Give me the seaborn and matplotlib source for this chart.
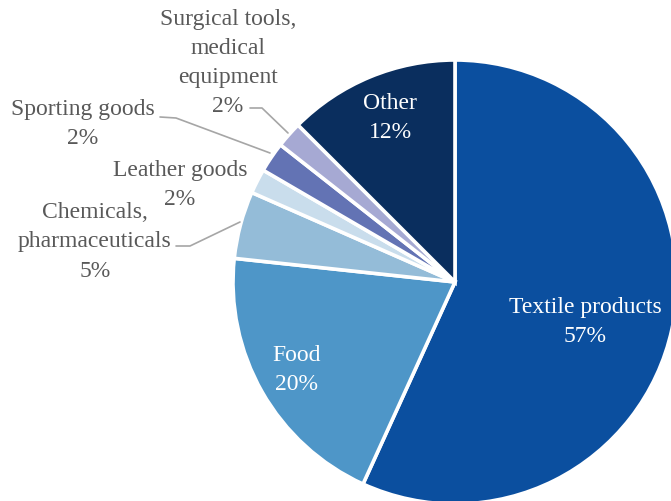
import matplotlib
matplotlib.use("Agg")
import matplotlib.pyplot as plt
import seaborn as sns

# Daten (Anteile in %)
kategorien = ["Textile products", "Food", "Chemicals,\npharmaceuticals", "Leather goods",
              "Sporting goods", "Surgical tools,\nmedical\nequipment", "Other"]
anteile = [56.8, 19.9, 4.9, 1.8, 2.2, 1.9, 12.5]
prozent_text = ["57%", "20%", "5%", "2%", "2%", "2%", "12%"]

farben = ["#0B4F9F", "#4E96C8", "#94BCD8", "#C9DDEC", "#6373B4", "#A6A9D3", "#0A2E5E"]

sns.set_theme(style="white")
plt.rcParams["font.family"] = ["Liberation Serif", "DejaVu Serif"]

W, H = 671, 501
cx, cy, r = 455, 282, 222

fig = plt.figure(figsize=(W / 100, H / 100), dpi=100)
ax = fig.add_axes([(cx - r) / W, (H - cy - r) / H, 2 * r / W, 2 * r / H])

ax.pie(anteile, colors=sns.color_palette(farben), startangle=90, counterclock=False,
       radius=1, wedgeprops=dict(edgecolor="white", linewidth=2.6, clip_on=False))
ax.set_xlim(-1, 1)
ax.set_ylim(-1, 1)
ax.axis("off")


def px(x, y):
    # Pixelposition -> Datenkoordinaten der Achse
    return (x - cx) / r, (cy - y) / r


# Beschriftungspositionen (Pixel, Textmitte)
label_pos = [(585, 322), (297, 370), (95, 242), (180, 185), (83, 124), (228, 63), (390, 118)]
innen = [True, True, False, False, False, False, True]

for kat, pct, pos, inn in zip(kategorien, prozent_text, label_pos, innen):
    ax.text(*px(*pos), kat + "\n" + pct, ha="center", va="center", fontsize=17,
            linespacing=1.52, color="white" if inn else "#595959", clip_on=False)

# Fuehrungslinien
leader = [
    [(176, 246), (190, 246), (240, 222)],
    [(160, 117), (176, 118), (270, 153)],
    [(250, 108), (262, 108), (288, 133)],
]
for pts in leader:
    xs, ys = zip(*[px(*p) for p in pts])
    ax.plot(xs, ys, color="#A6A6A6", linewidth=1.2, clip_on=False)

fig.savefig("out.png", dpi=100)
